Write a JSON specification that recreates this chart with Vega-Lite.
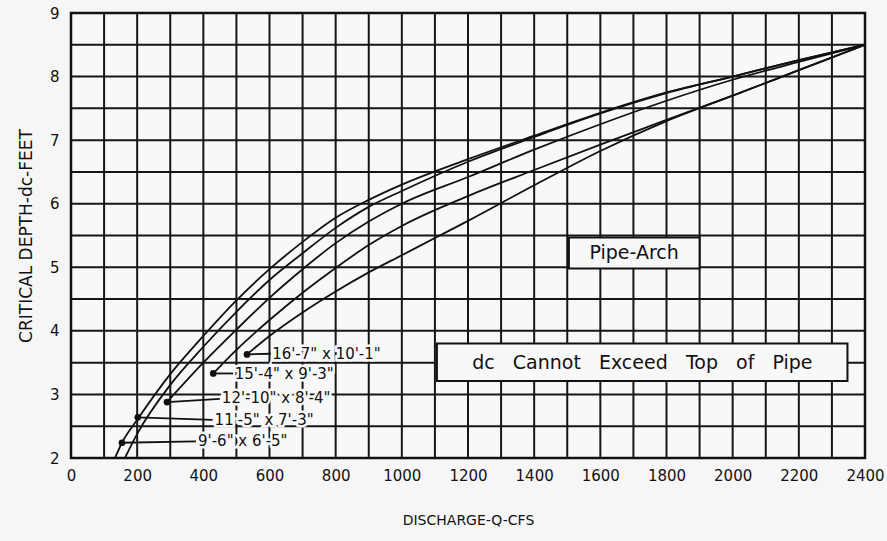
{
  "$schema": "https://vega.github.io/schema/vega-lite/v6.json",
  "width": 794,
  "height": 445,
  "autosize": "none",
  "padding": {"left": 71, "top": 13, "right": 22, "bottom": 83},
  "background": "#f6f6f6",
  "config": {
    "view": {"stroke": "#111111", "strokeWidth": 2.5, "fill": "#f8f8f8"},
    "font": "DejaVu Sans",
    "axis": {
      "grid": false,
      "domain": false,
      "ticks": false,
      "labelFont": "DejaVu Sans",
      "labelFontSize": 15,
      "labelColor": "#111111",
      "titleFont": "DejaVu Sans",
      "titleFontWeight": "normal",
      "titleColor": "#111111"
    }
  },
  "datasets": {
    "vgrid": [
      {"q": 100}, {"q": 200}, {"q": 300}, {"q": 400}, {"q": 500}, {"q": 600}, {"q": 700}, {"q": 800}, {"q": 900}, {"q": 1000},
      {"q": 1100}, {"q": 1200}, {"q": 1300}, {"q": 1400}, {"q": 1500}, {"q": 1600}, {"q": 1700}, {"q": 1800}, {"q": 1900}, {"q": 2000},
      {"q": 2100}, {"q": 2200}, {"q": 2300}
    ],
    "hgrid": [
      {"d": 2.5}, {"d": 3}, {"d": 3.5}, {"d": 4}, {"d": 4.5}, {"d": 5}, {"d": 5.5}, {"d": 6}, {"d": 6.5}, {"d": 7}, {"d": 7.5}, {"d": 8}, {"d": 8.5}
    ],
    "curves": [
      {"size": "9'-6\" x 6'-5\"", "q": 133, "d": 2.0},
      {"size": "9'-6\" x 6'-5\"", "q": 154, "d": 2.24},
      {"size": "9'-6\" x 6'-5\"", "q": 200, "d": 2.6},
      {"size": "9'-6\" x 6'-5\"", "q": 300, "d": 3.32},
      {"size": "9'-6\" x 6'-5\"", "q": 400, "d": 3.92},
      {"size": "9'-6\" x 6'-5\"", "q": 500, "d": 4.48},
      {"size": "9'-6\" x 6'-5\"", "q": 600, "d": 4.97},
      {"size": "9'-6\" x 6'-5\"", "q": 700, "d": 5.4},
      {"size": "9'-6\" x 6'-5\"", "q": 800, "d": 5.78},
      {"size": "9'-6\" x 6'-5\"", "q": 900, "d": 6.06},
      {"size": "9'-6\" x 6'-5\"", "q": 1000, "d": 6.3},
      {"size": "9'-6\" x 6'-5\"", "q": 1200, "d": 6.7},
      {"size": "9'-6\" x 6'-5\"", "q": 1400, "d": 7.07},
      {"size": "9'-6\" x 6'-5\"", "q": 1600, "d": 7.43},
      {"size": "9'-6\" x 6'-5\"", "q": 1800, "d": 7.75},
      {"size": "9'-6\" x 6'-5\"", "q": 2000, "d": 8.0},
      {"size": "9'-6\" x 6'-5\"", "q": 2200, "d": 8.26},
      {"size": "9'-6\" x 6'-5\"", "q": 2400, "d": 8.5},
      {"size": "11'-5\" x 7'-3\"", "q": 163, "d": 2.0},
      {"size": "11'-5\" x 7'-3\"", "q": 200, "d": 2.38},
      {"size": "11'-5\" x 7'-3\"", "q": 300, "d": 3.15},
      {"size": "11'-5\" x 7'-3\"", "q": 400, "d": 3.75},
      {"size": "11'-5\" x 7'-3\"", "q": 500, "d": 4.3},
      {"size": "11'-5\" x 7'-3\"", "q": 600, "d": 4.8},
      {"size": "11'-5\" x 7'-3\"", "q": 700, "d": 5.22},
      {"size": "11'-5\" x 7'-3\"", "q": 800, "d": 5.62},
      {"size": "11'-5\" x 7'-3\"", "q": 900, "d": 5.95},
      {"size": "11'-5\" x 7'-3\"", "q": 1000, "d": 6.2},
      {"size": "11'-5\" x 7'-3\"", "q": 1200, "d": 6.66},
      {"size": "11'-5\" x 7'-3\"", "q": 1400, "d": 7.05},
      {"size": "11'-5\" x 7'-3\"", "q": 1600, "d": 7.42},
      {"size": "11'-5\" x 7'-3\"", "q": 1800, "d": 7.74},
      {"size": "11'-5\" x 7'-3\"", "q": 2000, "d": 8.0},
      {"size": "11'-5\" x 7'-3\"", "q": 2200, "d": 8.26},
      {"size": "11'-5\" x 7'-3\"", "q": 2400, "d": 8.5},
      {"size": "12'-10\" x 8'-4\"", "q": 290, "d": 2.88},
      {"size": "12'-10\" x 8'-4\"", "q": 400, "d": 3.5},
      {"size": "12'-10\" x 8'-4\"", "q": 500, "d": 4.02},
      {"size": "12'-10\" x 8'-4\"", "q": 600, "d": 4.52},
      {"size": "12'-10\" x 8'-4\"", "q": 700, "d": 4.97},
      {"size": "12'-10\" x 8'-4\"", "q": 800, "d": 5.38},
      {"size": "12'-10\" x 8'-4\"", "q": 900, "d": 5.72},
      {"size": "12'-10\" x 8'-4\"", "q": 1000, "d": 6.0},
      {"size": "12'-10\" x 8'-4\"", "q": 1200, "d": 6.42},
      {"size": "12'-10\" x 8'-4\"", "q": 1400, "d": 6.85},
      {"size": "12'-10\" x 8'-4\"", "q": 1600, "d": 7.25},
      {"size": "12'-10\" x 8'-4\"", "q": 1800, "d": 7.62},
      {"size": "12'-10\" x 8'-4\"", "q": 2000, "d": 7.95},
      {"size": "12'-10\" x 8'-4\"", "q": 2200, "d": 8.23},
      {"size": "12'-10\" x 8'-4\"", "q": 2400, "d": 8.5},
      {"size": "15'-4\" x 9'-3\"", "q": 430, "d": 3.33},
      {"size": "15'-4\" x 9'-3\"", "q": 500, "d": 3.7},
      {"size": "15'-4\" x 9'-3\"", "q": 600, "d": 4.17},
      {"size": "15'-4\" x 9'-3\"", "q": 700, "d": 4.6},
      {"size": "15'-4\" x 9'-3\"", "q": 800, "d": 4.99},
      {"size": "15'-4\" x 9'-3\"", "q": 900, "d": 5.35},
      {"size": "15'-4\" x 9'-3\"", "q": 1000, "d": 5.65},
      {"size": "15'-4\" x 9'-3\"", "q": 1200, "d": 6.12},
      {"size": "15'-4\" x 9'-3\"", "q": 1400, "d": 6.53},
      {"size": "15'-4\" x 9'-3\"", "q": 1600, "d": 6.93},
      {"size": "15'-4\" x 9'-3\"", "q": 1800, "d": 7.32},
      {"size": "15'-4\" x 9'-3\"", "q": 2000, "d": 7.7},
      {"size": "15'-4\" x 9'-3\"", "q": 2200, "d": 8.1},
      {"size": "15'-4\" x 9'-3\"", "q": 2400, "d": 8.5},
      {"size": "16'-7\" x 10'-1\"", "q": 532, "d": 3.63},
      {"size": "16'-7\" x 10'-1\"", "q": 600, "d": 3.92},
      {"size": "16'-7\" x 10'-1\"", "q": 700, "d": 4.29},
      {"size": "16'-7\" x 10'-1\"", "q": 800, "d": 4.62},
      {"size": "16'-7\" x 10'-1\"", "q": 900, "d": 4.92},
      {"size": "16'-7\" x 10'-1\"", "q": 1000, "d": 5.19},
      {"size": "16'-7\" x 10'-1\"", "q": 1100, "d": 5.46},
      {"size": "16'-7\" x 10'-1\"", "q": 1200, "d": 5.73},
      {"size": "16'-7\" x 10'-1\"", "q": 1400, "d": 6.29},
      {"size": "16'-7\" x 10'-1\"", "q": 1600, "d": 6.83},
      {"size": "16'-7\" x 10'-1\"", "q": 1800, "d": 7.3},
      {"size": "16'-7\" x 10'-1\"", "q": 2000, "d": 7.7},
      {"size": "16'-7\" x 10'-1\"", "q": 2200, "d": 8.1},
      {"size": "16'-7\" x 10'-1\"", "q": 2400, "d": 8.5}
    ],
    "labels": [
      {"label": "9'-6\" x 6'-5\"", "q1": 154, "d1": 2.24, "q2": 378, "d2": 2.26, "tq": 384, "td": 2.26},
      {"label": "11'-5\" x 7'-3\"", "q1": 202, "d1": 2.64, "q2": 428, "d2": 2.6, "tq": 434, "td": 2.59},
      {"label": "12'-10\" x 8'-4\"", "q1": 290, "d1": 2.88, "q2": 450, "d2": 2.93, "tq": 456, "td": 2.94},
      {"label": "15'-4\" x 9'-3\"", "q1": 430, "d1": 3.33, "q2": 490, "d2": 3.33, "tq": 495, "td": 3.32},
      {"label": "16'-7\" x 10'-1\"", "q1": 532, "d1": 3.63, "q2": 604, "d2": 3.64, "tq": 608, "td": 3.64}
    ],
    "boxes": [
      {"text": "Pipe-Arch", "q1": 1505, "q2": 1900, "d1": 4.98, "d2": 5.47, "tq": 1702, "td": 5.22},
      {"text": "dc\u00a0\u00a0\u00a0Cannot\u00a0\u00a0\u00a0Exceed\u00a0\u00a0\u00a0Top\u00a0\u00a0\u00a0of\u00a0\u00a0\u00a0Pipe", "q1": 1106, "q2": 2347, "d1": 3.21, "d2": 3.8, "tq": 1727, "td": 3.5}
    ]
  },
  "layer": [
    {
      "data": {"name": "vgrid"},
      "mark": {"type": "rule", "color": "#161616", "strokeWidth": 2},
      "encoding": {"x": {"field": "q", "type": "quantitative", "scale": {"domain": [0, 2400], "nice": false}}}
    },
    {
      "data": {"name": "hgrid"},
      "mark": {"type": "rule", "color": "#161616", "strokeWidth": 2},
      "encoding": {"y": {"field": "d", "type": "quantitative", "scale": {"domain": [2, 9], "nice": false, "zero": false}}}
    },
    {
      "data": {"name": "curves"},
      "mark": {"type": "line", "color": "#111111", "strokeWidth": 1.8, "interpolate": "monotone", "clip": true},
      "encoding": {
        "x": {
          "field": "q", "type": "quantitative",
          "scale": {"domain": [0, 2400], "nice": false},
          "axis": {
            "values": [0,200,400,600,800,1000,1200,1400,1600,1800,2000,2200,2400],
            "format": "d",
            "labelPadding": 10,
            "labelFlush": false,
            "labelOverlap": false,
            "title": "DISCHARGE-Q-CFS",
            "titleFontSize": 14,
            "titlePadding": 30
          }
        },
        "y": {
          "field": "d", "type": "quantitative",
          "scale": {"domain": [2, 9], "nice": false, "zero": false},
          "axis": {
            "values": [2,3,4,5,6,7,8,9],
            "format": "d",
            "labelPadding": 12,
            "labelFlush": false,
            "title": "CRITICAL DEPTH-dc-FEET",
            "titleFontSize": 17,
            "titlePadding": 14
          }
        },
        "detail": {"field": "size", "type": "nominal"}
      }
    },
    {
      "data": {"name": "labels"},
      "mark": {"type": "rule", "color": "#111111", "strokeWidth": 1.8},
      "encoding": {
        "x": {"field": "q1", "type": "quantitative"},
        "x2": {"field": "q2"},
        "y": {"field": "d1", "type": "quantitative"},
        "y2": {"field": "d2"}
      }
    },
    {
      "data": {"name": "labels"},
      "mark": {"type": "point", "filled": true, "color": "#111111", "size": 45, "opacity": 1},
      "encoding": {
        "x": {"field": "q1", "type": "quantitative"},
        "y": {"field": "d1", "type": "quantitative"}
      }
    },
    {
      "data": {"name": "labels"},
      "mark": {"type": "text", "align": "left", "baseline": "middle", "fontSize": 15, "font": "DejaVu Sans", "stroke": "#f8f8f8", "strokeWidth": 5, "fill": "#f8f8f8"},
      "encoding": {
        "x": {"field": "tq", "type": "quantitative"},
        "y": {"field": "td", "type": "quantitative"},
        "text": {"field": "label"}
      }
    },
    {
      "data": {"name": "labels"},
      "mark": {"type": "text", "align": "left", "baseline": "middle", "fontSize": 15, "font": "DejaVu Sans", "color": "#111111"},
      "encoding": {
        "x": {"field": "tq", "type": "quantitative"},
        "y": {"field": "td", "type": "quantitative"},
        "text": {"field": "label"}
      }
    },
    {
      "data": {"name": "boxes"},
      "mark": {"type": "rect", "fill": "#f8f8f8", "stroke": "#111111", "strokeWidth": 2},
      "encoding": {
        "x": {"field": "q1", "type": "quantitative"},
        "x2": {"field": "q2"},
        "y": {"field": "d1", "type": "quantitative"},
        "y2": {"field": "d2"}
      }
    },
    {
      "data": {"name": "boxes"},
      "mark": {"type": "text", "align": "center", "baseline": "middle", "fontSize": 19, "font": "DejaVu Sans", "color": "#111111"},
      "encoding": {
        "x": {"field": "tq", "type": "quantitative"},
        "y": {"field": "td", "type": "quantitative"},
        "text": {"field": "text"}
      }
    }
  ]
}
